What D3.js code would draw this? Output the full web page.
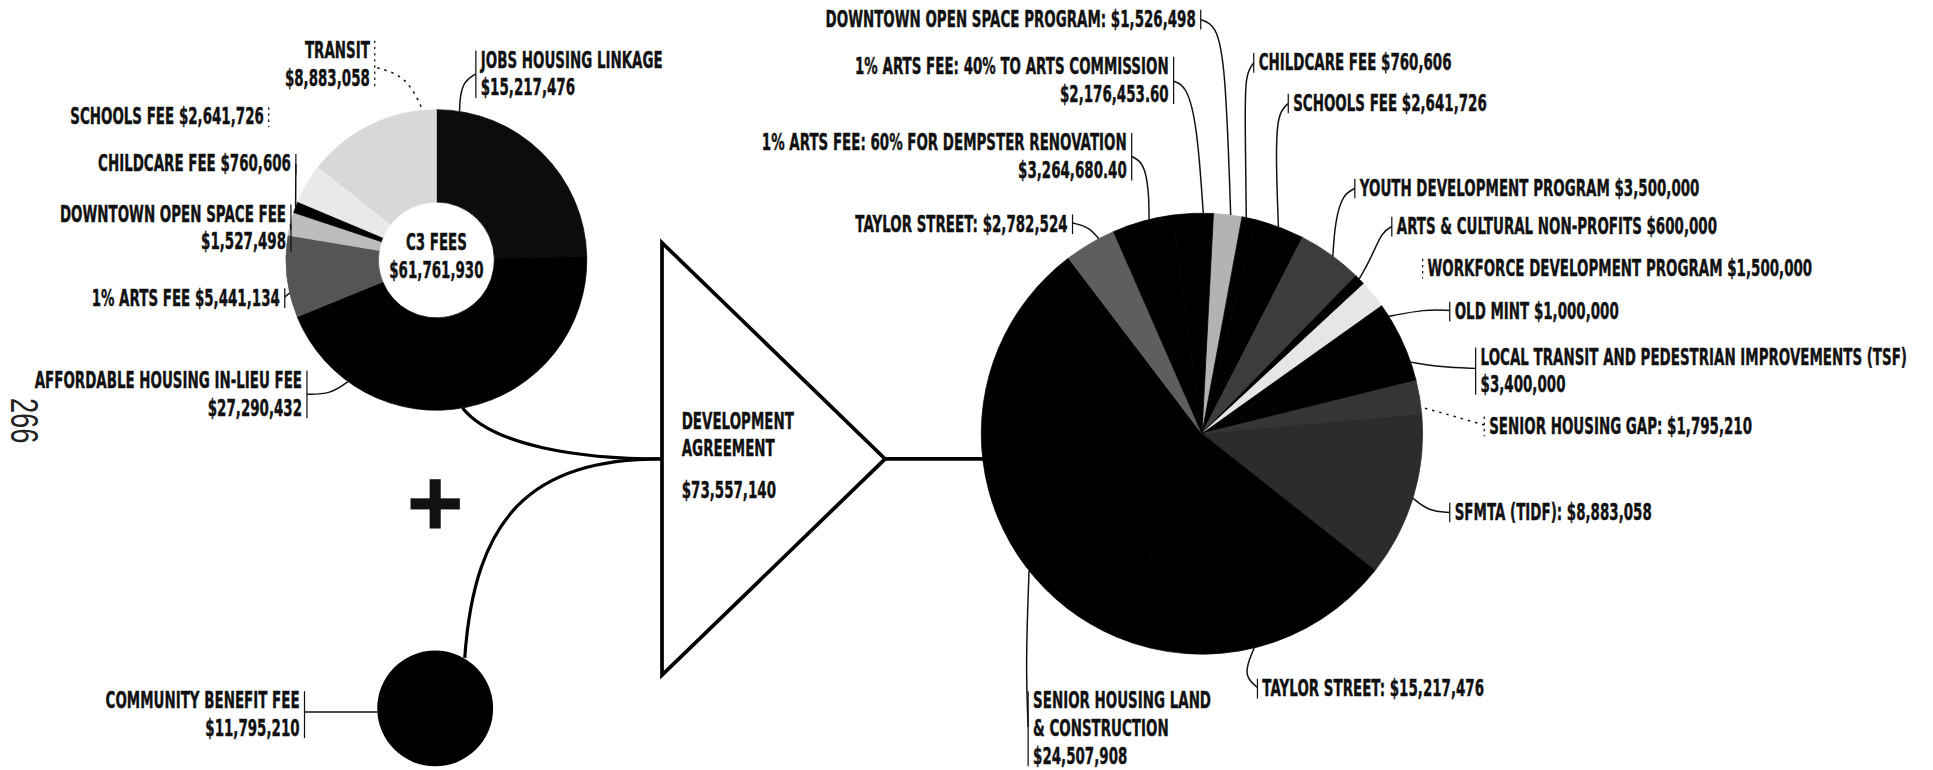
<!DOCTYPE html>
<html>
<head>
<meta charset="utf-8">
<script src="https://cdn.jsdelivr.net/npm/d3@7"></script>
<style>
  html, body { margin: 0; padding: 0; background: #fff; }
  svg { display: block; }
  .lbl { font-family: "DejaVu Sans", sans-serif; font-weight: bold; font-size: 18px; fill: #111; stroke: #111; stroke-width: 0.35; }
  .page { font-family: "Liberation Sans", Arial, sans-serif; font-size: 26px; fill: #222; }
</style>
</head>
<body>
<div id="chart"></div>
<script>
// C3 fees donut, clockwise from 12 o'clock
var c3Names = ["JOBS HOUSING LINKAGE", "AFFORDABLE HOUSING IN-LIEU FEE", "1% ARTS FEE",
    "DOWNTOWN OPEN SPACE FEE", "CHILDCARE FEE", "SCHOOLS FEE", "TRANSIT"];
var c3Values = [15217476, 27290432, 5441134, 1527498, 760606, 2641726, 8883058];
var c3Title = "C3 FEES", c3Total = 61761930;

var cbName = "COMMUNITY BENEFIT FEE", cbValue = 11795210;
var daTitle = ["DEVELOPMENT", "AGREEMENT"], daTotal = 73557140;

// development agreement pie, clockwise from 12 o'clock
var daNames = ["DOWNTOWN OPEN SPACE PROGRAM:", "CHILDCARE FEE", "SCHOOLS FEE",
    "YOUTH DEVELOPMENT PROGRAM", "ARTS & CULTURAL NON-PROFITS", "WORKFORCE DEVELOPMENT PROGRAM",
    "OLD MINT", "LOCAL TRANSIT AND PEDESTRIAN IMPROVEMENTS (TSF)", "SENIOR HOUSING GAP:",
    "SFMTA (TIDF):", "TAYLOR STREET:", "SENIOR HOUSING LAND\n& CONSTRUCTION", "TAYLOR STREET:",
    "1% ARTS FEE: 60% FOR DEMPSTER RENOVATION", "1% ARTS FEE: 40% TO ARTS COMMISSION"];
var daValues = [1526498, 760606, 2641726, 3500000, 600000, 1500000, 1000000, 3400000, 1795210,
    8883058, 15217476, 24507908, 2782524, 3264680.40, 2176453.60];

var pageNumber = "266";

// ---- styles and layout (drawing units = reference at 1568x625) ----
var c3Fills = ["#0c0c0c", "#000", "#555", "#bdbdbd", "#000", "#e9e9e9", "#d8d8d8"];
var daFills = ["#b3b3b3", "#000", "#000", "#3c3c3c", "#000", "#e6e6e6", "#000", "#000",
    "#353535", "#2c2c2c", "#000", "#000", "#5e5e5e", "#000", "#000"];

var W = 1568, H = 625, SX = 0.605, LH = 22.5;
var donut = { cx: 354, cy: 211, r0: 47, r1: 122 };
var pie = { cx: 975, cy: 352, r: 179, start: 3 };
var cb = { cx: 353, cy: 575, r: 47 };
var tri = { x: 537, top: 197, bottom: 548, apex: 718 };

// label boxes: x/y = text edge and first baseline, lead = leader points before the slice
var c3Layout = [
    { x: 390, y: 55, anchor: "start", wrap: true, lead: [[386, 60], [376, 66], [373, 80]], at: 0.1 },
    { x: 245, y: 315, anchor: "end", wrap: true, lead: [[249, 320], [268, 320]], at: 0.8 },
    { x: 227, y: 248, anchor: "end", lead: [[231, 241]], at: 0.3 },
    { x: 232, y: 180, anchor: "end", wrap: true, lead: [[236, 186]], at: 0.5 },
    { x: 236, y: 139, anchor: "end", lead: [[240, 133]], at: 0.5 },
    { x: 214, y: 101, anchor: "end", dot: true },
    { x: 300, y: 47, anchor: "end", wrap: true, dot: true, lead: [[306, 55], [330, 62]], at: 0.9 }
];
var daLayout = [
    { x: 970, y: 22, anchor: "end", lead: [[974, 16], [986, 20], [994, 50]], at: 0.6 },
    { x: 1021, y: 57, anchor: "start", lead: [[1017, 51], [1010, 60], [1010, 100]], at: 0.3 },
    { x: 1049, y: 90, anchor: "start", lead: [[1045, 84], [1036, 92], [1035, 130]], at: 0.47 },
    { x: 1103, y: 159, anchor: "start", lead: [[1099, 153], [1089, 158], [1083, 180]], at: 0.54 },
    { x: 1133, y: 190, anchor: "start", lead: [[1129, 184], [1121, 188], [1112, 210]], at: 0.4 },
    { x: 1158, y: 224, anchor: "start", dot: true },
    { x: 1180, y: 259, anchor: "start", lead: [[1176, 252], [1156, 251]], at: 0.68 },
    { x: 1201, y: 296, anchor: "start", wrap: true, lead: [[1197, 299], [1169, 298]], at: 0.7 },
    { x: 1208, y: 352, anchor: "start", dot: true, lead: [[1204, 345], [1180, 338]], at: 0.8 },
    { x: 1180, y: 422, anchor: "start", lead: [[1176, 416], [1159, 415]], at: 0.51 },
    { x: 1024, y: 565, anchor: "start", lead: [[1020, 558], [1008, 548]], at: 0.51 },
    { x: 838, y: 575, anchor: "start", wrap: true, lead: [[834, 590], [832, 540]], at: 0.24 },
    { x: 866, y: 188, anchor: "end", lead: [[870, 181], [883, 184]], at: 0.69 },
    { x: 914, y: 122, anchor: "end", wrap: true, lead: [[918, 127], [928, 132], [932, 155]], at: 0.61 },
    { x: 948, y: 60, anchor: "end", wrap: true, lead: [[952, 66], [962, 69], [971, 100]], at: 0.75 }
];

var rad = Math.PI / 180;

function money(v) {
    return d3.format(Number.isInteger(v) ? "$," : "$,.2f")(v);
}

function textLines(name, value, wrap) {
    var parts = name.split("\n");
    if (wrap) parts.push(money(value));
    else parts[parts.length - 1] += " " + money(value);
    return parts;
}

function writeText(g, x, y, anchor, lines) {
    var t = g.append("g")
        .attr("transform", "translate(" + x + "," + y + ") scale(" + SX + ",1)");
    lines.forEach(function(s, i) {
        t.append("text").attr("class", "lbl")
            .attr("y", i * LH)
            .attr("text-anchor", anchor)
            .text(s);
    });
}

var svg = d3.select("#chart").append("svg")
    .attr("width", 1933)
    .attr("height", 770)
    .attr("viewBox", "0 0 " + W + " " + H)
    .attr("preserveAspectRatio", "none");

var leader = d3.line().curve(d3.curveBasis);

function drawLabels(g, arcs, names, values, layout, geo, rOuter) {
    arcs.forEach(function(a, i) {
        var L = layout[i];
        var lines = textLines(names[i], values[i], L.wrap);
        writeText(g, L.x, L.y, L.anchor, lines);
        var bx = L.anchor === "end" ? L.x + 4 : L.x - 4;
        g.append("line")
            .attr("x1", bx).attr("x2", bx)
            .attr("y1", L.y - 14).attr("y2", L.y + (lines.length - 1) * LH + 2)
            .attr("stroke", "#111")
            .attr("stroke-width", 1)
            .attr("stroke-dasharray", L.dot ? "2,3" : null);
        if (!L.lead) return;
        var ang = a.startAngle + L.at * (a.endAngle - a.startAngle);
        var end = [geo.cx + rOuter * Math.sin(ang), geo.cy - rOuter * Math.cos(ang)];
        g.append("path")
            .attr("d", leader(L.lead.concat([end])))
            .attr("fill", "none")
            .attr("stroke", "#111")
            .attr("stroke-width", 1.2)
            .attr("stroke-dasharray", L.dot ? "2,4" : null);
    });
}

// ---- connectors ----
var midY = (tri.top + tri.bottom) / 2;
var links = svg.append("g").attr("fill", "none").attr("stroke", "#000").attr("stroke-width", 2.6);

var a170 = 170 * rad;
var p = d3.path();
p.moveTo(donut.cx + donut.r1 * Math.sin(a170), donut.cy - donut.r1 * Math.cos(a170));
p.bezierCurveTo(400, 362, 470, midY, tri.x, midY);
links.append("path").attr("d", p.toString());

var q = d3.path();
q.moveTo(cb.cx + 24, cb.cy - cb.r + 6);
q.bezierCurveTo(385, 420, 430, midY, tri.x, midY);
links.append("path").attr("d", q.toString());

links.append("line")
    .attr("x1", tri.apex).attr("y1", midY)
    .attr("x2", pie.cx - Math.sqrt(pie.r * pie.r - Math.pow(midY - pie.cy, 2)) + 2).attr("y2", midY)
    .attr("stroke-width", 3);

// ---- C3 donut ----
var c3Pie = d3.pie().sort(null).value(function(d) { return d; });
var c3Arcs = c3Pie(c3Values);
var c3Arc = d3.arc().innerRadius(donut.r0).outerRadius(donut.r1);
var gDonut = svg.append("g").attr("transform", "translate(" + donut.cx + "," + donut.cy + ")");
gDonut.selectAll("path")
    .data(c3Arcs)
    .enter().append("path")
    .attr("d", c3Arc)
    .attr("fill", function(d, i) { return c3Fills[i]; })
    .attr("stroke", function(d, i) { return c3Fills[i]; })
    .attr("stroke-width", 0.6);

writeText(svg, donut.cx, donut.cy - 8, "middle", [c3Title, money(c3Total)]);
drawLabels(svg.append("g"), c3Arcs, c3Names, c3Values, c3Layout, donut, donut.r1);

// ---- plus sign ----
svg.append("rect").attr("x", 333).attr("y", 404.5).attr("width", 40).attr("height", 9).attr("fill", "#111");
svg.append("rect").attr("x", 348.5).attr("y", 389).attr("width", 9).attr("height", 40).attr("fill", "#111");

// ---- community benefit fee ----
svg.append("circle")
    .attr("cx", cb.cx).attr("cy", cb.cy).attr("r", cb.r)
    .attr("fill", "#000");
var cbLines = textLines(cbName, cbValue, true);
writeText(svg, 243, 575, "end", cbLines);
svg.append("line").attr("x1", 247).attr("x2", 247).attr("y1", 561).attr("y2", 599)
    .attr("stroke", "#111").attr("stroke-width", 1);
svg.append("line").attr("x1", 247).attr("x2", cb.cx - cb.r).attr("y1", 578).attr("y2", 578)
    .attr("stroke", "#111").attr("stroke-width", 1.2);

// ---- development agreement triangle ----
svg.append("path")
    .attr("d", "M" + tri.x + "," + tri.top + "L" + tri.apex + "," + midY + "L" + tri.x + "," + tri.bottom + "Z")
    .attr("fill", "#fff")
    .attr("stroke", "#000")
    .attr("stroke-width", 3)
    .attr("stroke-linejoin", "miter");
writeText(svg, 553, 348, "start", daTitle);
writeText(svg, 553, 404, "start", [money(daTotal)]);

// ---- development agreement pie ----
var daPie = d3.pie().sort(null).value(function(d) { return d; })
    .startAngle(pie.start * rad).endAngle((pie.start + 360) * rad);
var daArcs = daPie(daValues);
var daArc = d3.arc().innerRadius(0).outerRadius(pie.r);
var gPie = svg.append("g").attr("transform", "translate(" + pie.cx + "," + pie.cy + ")");
gPie.selectAll("path")
    .data(daArcs)
    .enter().append("path")
    .attr("d", daArc)
    .attr("fill", function(d, i) { return daFills[i]; })
    .attr("stroke", function(d, i) { return daFills[i]; })
    .attr("stroke-width", 0.6);

drawLabels(svg.append("g"), daArcs, daNames, daValues, daLayout, pie, pie.r);

// ---- page number ----
svg.append("text").attr("class", "page")
    .attr("transform", "translate(9,323) rotate(90) scale(0.85,1.2)")
    .text(pageNumber);
</script>
</body>
</html>
